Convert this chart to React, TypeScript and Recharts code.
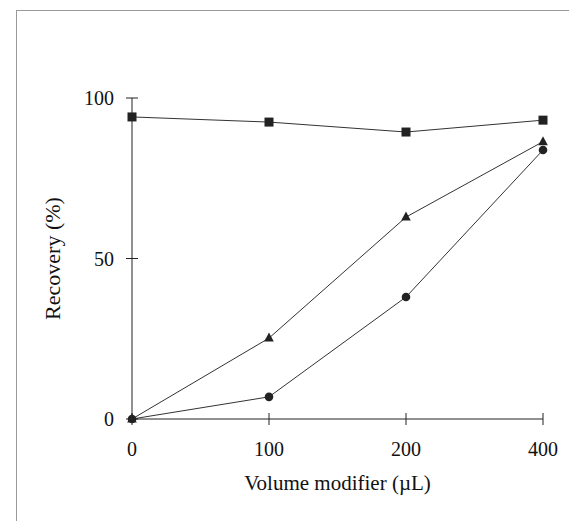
import React from 'react';
import { LineChart, Line, XAxis, YAxis, Label } from 'recharts';

const categories = ['0', '100', '200', '400'];
const squareValues = [94.1, 92.5, 89.4, 93.1];
const triangleValues = [0, 25.2, 62.9, 86.4];
const circleValues = [0, 6.9, 38.0, 83.8];
const yTicks = [0, 50, 100];

const data = categories.map((c, i) => ({
  x: c,
  sq: squareValues[i],
  tri: triangleValues[i],
  cir: circleValues[i],
}));

const FONT = '"Liberation Serif", "DejaVu Serif", serif';
const INK = '#222';

const SquareDot = (p: any) => (
  <rect key={`s${p.index}`} x={p.cx - 4.5} y={p.cy - 4.5} width={9} height={9} fill={INK} />
);
const TriDot = (p: any) => (
  <polygon
    key={`t${p.index}`}
    points={`${p.cx},${p.cy - 5.5} ${p.cx - 4.8},${p.cy + 3.5} ${p.cx + 4.8},${p.cy + 3.5}`}
    fill={INK}
  />
);
const CirDot = (p: any) => (
  <circle key={`c${p.index}`} cx={p.cx} cy={p.cy} r={4.3} fill={INK} />
);

const YTick = (p: any) => {
  const ax = p.x + 18;
  return (
    <g>
      <line x1={ax - 6} x2={ax + 6} y1={p.y} y2={p.y} stroke={INK} strokeWidth={1} />
      <text x={p.x} y={p.y} dy="0.35em" textAnchor="end" fontFamily={FONT} fontSize={20} fill="#111">
        {p.payload.value}
      </text>
    </g>
  );
};

const XTick = (p: any) => {
  const ay = p.y - 23;
  return (
    <g>
      <line x1={p.x} x2={p.x} y1={ay - 6} y2={ay + 6} stroke={INK} strokeWidth={1} />
      <text x={p.x} y={p.y} dy="0.71em" textAnchor="middle" fontFamily={FONT} fontSize={20} fill="#111">
        {p.payload.value}
      </text>
    </g>
  );
};

export default function App() {
  return (
    <div style={{ position: 'absolute', left: 0, top: 0, width: 569, height: 521, background: '#fff' }}>
      <div
        style={{
          position: 'absolute',
          left: 16,
          top: 10,
          width: 553,
          height: 511,
          borderTop: '1px solid #9a9a9a',
          borderLeft: '1px solid #9a9a9a',
          boxSizing: 'border-box',
        }}
      />
      <div style={{ position: 'absolute', left: 0, top: 0 }}>
        <LineChart width={569} height={521} data={data} margin={{ top: 98, right: 26, bottom: 0, left: 0 }}>
          <XAxis
            dataKey="x"
            type="category"
            height={102}
            tickLine={false}
            tickSize={6}
            tickMargin={17}
            axisLine={{ stroke: INK, strokeWidth: 1 }}
            tick={<XTick />}
            interval={0}
          >
            <Label
              value="Volume modifier (µL)"
              position="insideBottom"
              offset={31}
              style={{ fontFamily: FONT, fontSize: 21, fill: '#111' }}
            />
          </XAxis>
          <YAxis
            width={132}
            domain={[0, 100]}
            ticks={yTicks}
            tickLine={false}
            tickSize={6}
            tickMargin={12}
            axisLine={{ stroke: INK, strokeWidth: 1 }}
            tick={<YTick />}
          >
            <Label
              value="Recovery (%)"
              angle={-90}
              position="insideLeft"
              offset={58}
              dx={-6}
              style={{ fontFamily: FONT, fontSize: 22, fill: '#111', textAnchor: 'middle' }}
            />
          </YAxis>
          <Line dataKey="sq" stroke="#333" strokeWidth={1} dot={SquareDot} isAnimationActive={false} />
          <Line dataKey="tri" stroke="#333" strokeWidth={1} dot={TriDot} isAnimationActive={false} />
          <Line dataKey="cir" stroke="#333" strokeWidth={1} dot={CirDot} isAnimationActive={false} />
        </LineChart>
      </div>
    </div>
  );
}
